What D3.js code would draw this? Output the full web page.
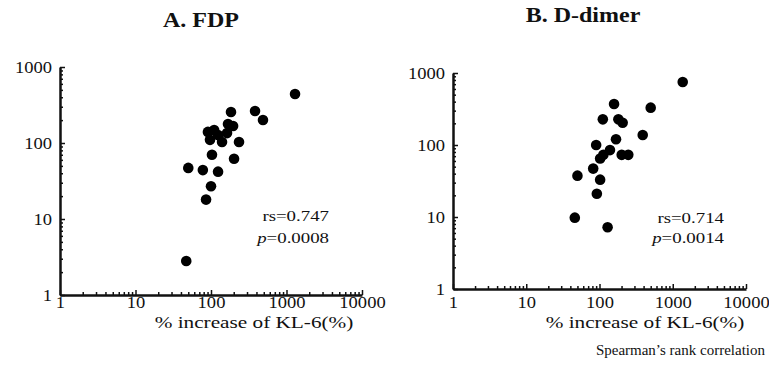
<!DOCTYPE html>
<html>
<head>
<meta charset="utf-8">
<script src="https://cdn.jsdelivr.net/npm/d3@7"></script>
<style>
  html, body { margin: 0; padding: 0; background: #fff; }
  svg text { font-family: "Liberation Serif", "Times New Roman", serif; fill: #111; }
</style>
</head>
<body>
<svg id="chart" width="769" height="374"></svg>
<script>
// % increase of KL-6 vs FDP
const fdpKL6 = [1297, 383, 488, 184, 168, 196, 91, 110, 124, 97, 140, 163, 235, 103, 202, 50, 78, 124, 100, 86, 47];
const fdpVal = [441, 264, 201, 256, 178, 167, 140, 148, 127, 110, 103, 135, 103, 70, 62, 47, 44, 42, 27, 18, 2.8];

// % increase of KL-6 vs D-dimer
const ddKL6 = [1368, 500, 158, 111, 181, 207, 389, 168, 90, 139, 113, 102, 201, 247, 82, 50, 102, 92, 46, 129];
const ddVal = [750, 330, 371, 227, 227, 204, 138, 120, 100, 85, 73, 65, 73, 73, 47, 37.5, 33, 21, 9.8, 7.2];

const xTicks = [1, 10, 100, 1000, 10000];
const yTicks = [1, 10, 100, 1000];

const panels = [
  { title: "A. FDP", xs: fdpKL6, ys: fdpVal, rs: "rs=0.747", p: "=0.0008",
    x0: 60, x1: 362, y0: 295, y1: 67, titleX: 201, titleY: 27, statX: 329, rsY: 221, pY: 243,
    axisTitleX: 254 },
  { title: "B. D-dimer", xs: ddKL6, ys: ddVal, rs: "rs=0.714", p: "=0.0014",
    x0: 453, x1: 746, y0: 289, y1: 73, titleX: 583, titleY: 22, statX: 724, rsY: 223, pY: 243,
    axisTitleX: 645 }
];

const svg = d3.select("#chart");

// serif text set slightly wide
function wideText(parent, x, y, sx, size) {
  return parent.append("text")
    .attr("transform", `translate(${x},${y}) scale(${sx},1)`)
    .attr("font-size", size);
}

function minorTicks(maxExp) {
  const out = [];
  for (let e = 0; e < maxExp; e++)
    for (let m = 2; m <= 9; m++) out.push(m * Math.pow(10, e));
  return out;
}

panels.forEach(P => {
  const g = svg.append("g");
  const x = d3.scaleLog().domain([1, 10000]).range([P.x0, P.x1]);
  const y = d3.scaleLog().domain([1, 1000]).range([P.y0, P.y1]);

  // minor ticks, pointing into the plot
  g.append("g").attr("transform", `translate(0,${P.y0})`)
    .call(d3.axisBottom(x).tickValues(minorTicks(4)).tickSize(-3).tickFormat(""))
    .call(a => a.select(".domain").remove());
  g.append("g").attr("transform", `translate(${P.x0},0)`)
    .call(d3.axisLeft(y).tickValues(minorTicks(3)).tickSize(-3).tickFormat(""))
    .call(a => a.select(".domain").remove());

  // decade ticks and labels
  const xa = g.append("g").attr("transform", `translate(0,${P.y0})`)
    .call(d3.axisBottom(x).tickValues(xTicks).tickSize(-5).tickSizeOuter(0)
      .tickFormat(d3.format("d")));
  const ya = g.append("g").attr("transform", `translate(${P.x0},0)`)
    .call(d3.axisLeft(y).tickValues(yTicks).tickSize(-5).tickSizeOuter(0)
      .tickFormat(d3.format("d")));

  [xa, ya].forEach(a => {
    a.select(".domain").attr("stroke", "#111").attr("stroke-width", 2.5);
    a.selectAll(".tick text").attr("font-size", 17.5)
      .style("font-family", '"Liberation Serif", serif').attr("fill", "#111");
  });
  g.selectAll(".tick line").attr("stroke", "#111").attr("stroke-width", 1.5);
  const sxTick = 1.06;
  ya.selectAll(".tick text")
    .attr("x", null).attr("dy", null).attr("y", null)
    .attr("transform", `translate(-8,5.5) scale(${sxTick},1)`);
  xa.selectAll(".tick text")
    .attr("x", null).attr("dy", null).attr("y", null)
    .attr("transform", `translate(0,${308 - P.y0}) scale(${sxTick},1)`);

  // points
  g.append("g").selectAll("circle")
    .data(P.xs.map((v, i) => [v, P.ys[i]]))
    .join("circle")
    .attr("cx", d => x(d[0]))
    .attr("cy", d => y(d[1]))
    .attr("r", 5.3)
    .attr("fill", "#000");

  // panel title
  wideText(g, P.titleX, P.titleY, 1.2, 20)
    .attr("text-anchor", "middle").attr("font-weight", "bold").text(P.title);

  // Spearman statistics
  wideText(g, P.statX, P.rsY, 1.3, 14.5).attr("text-anchor", "end").text(P.rs);
  const pt = wideText(g, P.statX, P.pY, 1.3, 14.5).attr("text-anchor", "end");
  pt.append("tspan").attr("font-style", "italic").text("p");
  pt.append("tspan").text(P.p);

  // x-axis title
  wideText(g, P.axisTitleX, 328, 1.25, 17)
    .attr("text-anchor", "middle").text("% increase of KL-6(%)");
});

svg.append("text").attr("x", 765).attr("y", 355).attr("text-anchor", "end")
  .attr("font-size", 15).text("Spearman\u2019s rank correlation");
</script>
</body>
</html>
